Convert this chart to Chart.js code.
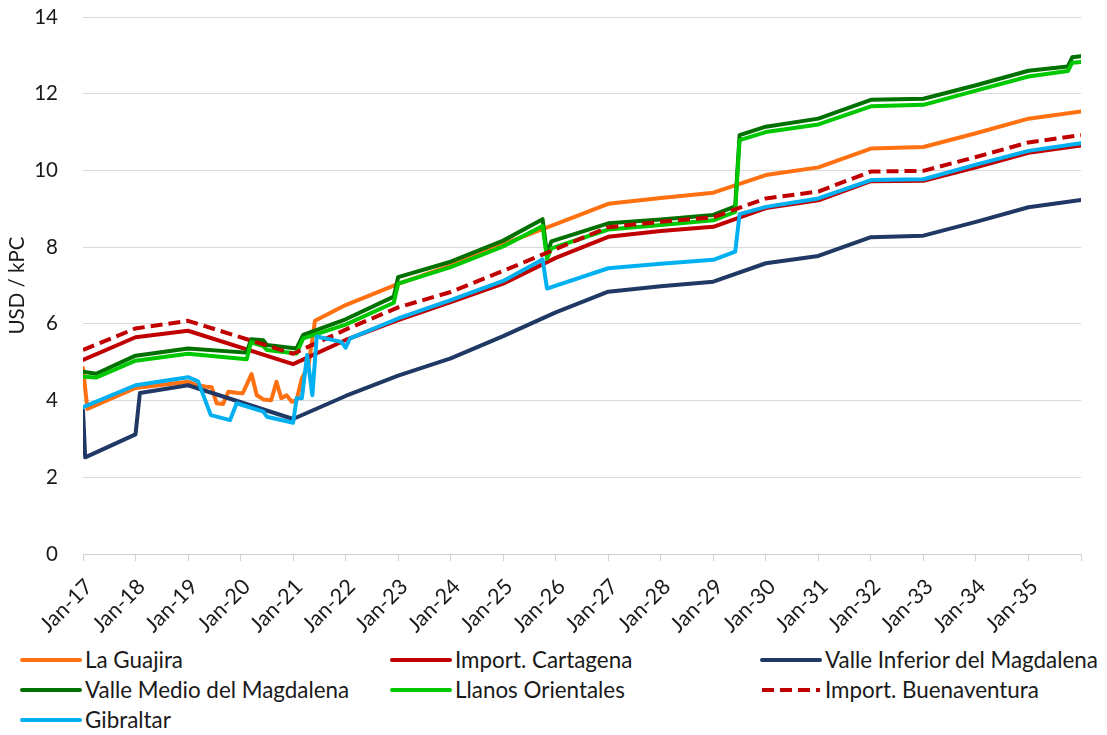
<!DOCTYPE html>
<html>
<head>
<meta charset="utf-8">
<script src="https://cdn.jsdelivr.net/npm/chart.js@4.4.1/dist/chart.umd.min.js"></script>
<style>
  body { margin: 0; background: #fff; }
  #wrap { position: relative; width: 1107px; height: 735px; }
  #legend { position: absolute; left: 0; top: 645px; width: 1107px; height: 90px;
            font-family: Lato, sans-serif; font-size: 22.4px; color: #1a1a1a; }
  .item { position: absolute; height: 30px; line-height: 30px; white-space: nowrap; }
  .item svg { position: absolute; left: 0; top: 11px; }
  .item span { position: absolute; left: 65px; top: 0; }
</style>
</head>
<body>
<div id="wrap">
  <canvas id="chart" width="1107" height="645"></canvas>
  <div id="legend"></div>
</div>
<script>
/* data: x = months since Jan-17, y = USD / kPC */
const yearLabels = ['Jan-17', 'Jan-18', 'Jan-19', 'Jan-20', 'Jan-21', 'Jan-22', 'Jan-23', 'Jan-24', 'Jan-25', 'Jan-26',
    'Jan-27', 'Jan-28', 'Jan-29', 'Jan-30', 'Jan-31', 'Jan-32', 'Jan-33', 'Jan-34', 'Jan-35'];

const laGuajira = [[0, 4.85], [1, 3.78], [12, 4.33], [24, 4.49], [26, 4.40], [28.2, 4.36], [29.4, 4.35], [30.5, 3.93],
    [32, 3.91], [33.2, 4.23], [35.5, 4.20], [36.5, 4.19], [38.5, 4.69], [39.7, 4.14], [41.2, 4.03], [43, 4.01],
    [44.2, 4.49], [45.3, 4.06], [46.5, 4.14], [47.7, 3.97], [48.8, 4.01], [50, 4.58], [51.5, 4.9], [53, 6.08],
    [60, 6.49], [72, 7.04], [84, 7.52], [96, 8.08], [108, 8.6], [120, 9.13], [132, 9.28], [144, 9.42], [156, 9.88],
    [168, 10.08], [180, 10.57], [192, 10.61], [204, 10.97], [216, 11.35], [228, 11.54]];

const importCartagena = [[0, 5.06], [12, 5.65], [24, 5.82], [48, 4.95], [60, 5.58], [72, 6.10], [84, 6.57], [96, 7.05],
    [108, 7.72], [120, 8.27], [132, 8.42], [144, 8.53], [156, 9.02], [168, 9.22], [180, 9.72], [192, 9.73],
    [204, 10.08], [216, 10.46], [228, 10.65]];

const valleInferior = [[0, 3.75], [0.5, 2.52], [12, 3.12], [13, 4.2], [24, 4.40], [48, 3.52], [60, 4.12], [72, 4.65],
    [84, 5.10], [96, 5.68], [108, 6.30], [120, 6.84], [132, 6.98], [144, 7.10], [156, 7.58], [168, 7.77],
    [180, 8.26], [192, 8.30], [204, 8.66], [216, 9.04], [228, 9.23]];

const valleMedio = [[0, 4.75], [3, 4.70], [12, 5.17], [24, 5.36], [37.4, 5.25], [38.4, 5.60], [41.2, 5.57], [42, 5.45],
    [48.8, 5.36], [50.3, 5.71], [60, 6.12], [71, 6.71], [72, 7.22], [84, 7.62], [96, 8.17], [105, 8.73], [106, 7.82],
    [107, 8.15], [120, 8.62], [132, 8.72], [144, 8.84], [149, 9.06], [150, 10.92], [156, 11.14], [168, 11.35],
    [180, 11.84], [192, 11.87], [204, 12.22], [216, 12.60], [225, 12.71], [226, 12.95], [228, 12.98]];

const llanosOrientales = [[0, 4.62], [3, 4.60], [12, 5.04], [24, 5.22], [37.4, 5.08], [38.4, 5.52], [41.2, 5.42], [42, 5.32],
    [48.8, 5.23], [50.3, 5.62], [60, 5.98], [71, 6.55], [72, 7.05], [84, 7.48], [96, 8.02], [105, 8.55], [106, 7.70],
    [107, 7.97], [120, 8.46], [132, 8.58], [144, 8.70], [149, 8.92], [150, 10.79], [156, 11.00], [168, 11.20],
    [180, 11.67], [192, 11.71], [204, 12.08], [216, 12.45], [225, 12.59], [226, 12.81], [228, 12.83]];

const importBuenaventura = [[0, 5.32], [12, 5.88], [24, 6.08], [48, 5.22], [60, 5.85], [72, 6.43], [84, 6.83], [96, 7.38],
    [108, 7.95], [120, 8.52], [132, 8.66], [144, 8.78], [156, 9.27], [168, 9.45], [180, 9.97], [192, 9.99],
    [204, 10.35], [216, 10.73], [228, 10.92]];

const gibraltar = [[0, 3.83], [12, 4.40], [24, 4.61], [26.3, 4.50], [29.2, 3.62], [33.6, 3.49], [35.1, 3.93], [41.2, 3.71],
    [42, 3.58], [48, 3.42], [48.8, 4.06], [50, 4.06], [51.2, 5.19], [52.4, 4.14], [53.4, 5.67], [59, 5.53], [60, 5.38],
    [61, 5.62], [72, 6.14], [84, 6.62], [96, 7.12], [105, 7.68], [106, 6.92], [120, 7.45], [132, 7.57], [144, 7.67],
    [149, 7.88], [150, 8.86], [156, 9.05], [168, 9.27], [180, 9.75], [192, 9.77], [204, 10.15], [216, 10.51], [228, 10.71]];

const seriesNames = ['La Guajira', 'Import. Cartagena', 'Valle Inferior del Magdalena', 'Valle Medio del Magdalena',
    'Llanos Orientales', 'Import. Buenaventura', 'Gibraltar'];
const seriesValues = [laGuajira, importCartagena, valleInferior, valleMedio, llanosOrientales, importBuenaventura, gibraltar];
/**/

const seriesColors = ['#FF7010', '#C00000', '#203864', '#007000', '#00C800', '#C00000', '#00B0F0'];
const seriesDash = [[], [], [], [], [], [12, 6], [], []];

const textColor = '#1a1a1a';
const fontFamily = 'Lato, sans-serif';

let datasets = seriesNames.map((name, i) => ({
    label: name,
    data: seriesValues[i],
    borderColor: seriesColors[i],
    backgroundColor: seriesColors[i],
    borderWidth: 4,
    borderDash: seriesDash[i],
    borderCapStyle: seriesDash[i].length ? 'butt' : 'round',
    borderJoinStyle: 'round',
    pointRadius: 0,
    tension: 0,
    fill: false,
    order: seriesNames.length - i
}));

new Chart(document.getElementById('chart'), {
    type: 'line',
    data: { datasets: datasets },
    options: {
        responsive: false,
        animation: false,
        layout: { padding: { left: 0, right: 26, top: 17, bottom: 0 } },
        plugins: {
            legend: { display: false },
            tooltip: { enabled: false }
        },
        scales: {
            x: {
                type: 'linear',
                min: 0,
                max: 228,
                afterFit: (scale) => {
                    scale.height = 91;
                    scale.paddingLeft = 0;
                    scale.paddingRight = 0;
                },
                ticks: {
                    stepSize: 12,
                    autoSkip: false,
                    maxRotation: 45,
                    minRotation: 45,
                    padding: 13,
                    labelOffset: 6,
                    color: textColor,
                    font: { family: fontFamily, size: 21.5 },
                    callback: (v) => yearLabels[v / 12] || ''
                },
                grid: { drawOnChartArea: false, drawTicks: true, tickLength: 7, color: '#d0d0d0' },
                border: { display: true, color: '#d0d0d0', width: 1 }
            },
            y: {
                min: 0,
                max: 14,
                afterFit: (scale) => { scale.width = 83; },
                ticks: {
                    stepSize: 2,
                    padding: 3,
                    color: textColor,
                    font: { family: fontFamily, size: 20.5 }
                },
                title: {
                    display: true,
                    text: 'USD / kPC',
                    color: textColor,
                    padding: { top: 5, bottom: 0 },
                    font: { family: fontFamily, size: 20.5 }
                },
                grid: { color: '#d9d9d9', lineWidth: 1, drawTicks: true, tickLength: 22, tickColor: 'rgba(0,0,0,0)' },
                border: { display: false }
            }
        }
    }
});

/* legend in three columns, like the original */
let legendBox = document.getElementById('legend');
let colLeft = [20, 390, 760];
let rowTop = [0, 30, 60];
seriesNames.forEach((name, i) => {
    let item = document.createElement('div');
    item.className = 'item';
    item.style.left = colLeft[i % 3] + 'px';
    item.style.top = rowTop[Math.floor(i / 3)] + 'px';
    let dash = seriesDash[i].length ? ' stroke-dasharray="' + seriesDash[i].join(' ') + '"' : '';
    let cap = seriesDash[i].length ? 'butt' : 'round';
    item.innerHTML = '<svg width="62" height="8"><line x1="2" y1="4" x2="60" y2="4" stroke="' + seriesColors[i] +
        '" stroke-width="4" stroke-linecap="' + cap + '"' + dash + '/></svg><span></span>';
    item.querySelector('span').textContent = name;
    legendBox.appendChild(item);
});
</script>
</body>
</html>
